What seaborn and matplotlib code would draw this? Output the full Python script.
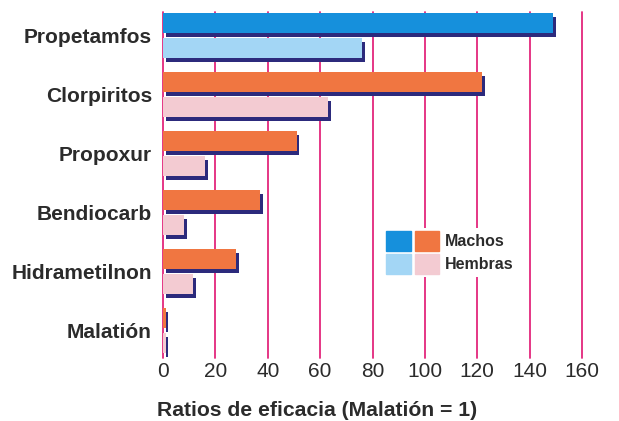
import pandas as pd
import numpy as np
import matplotlib
matplotlib.use("Agg")
import matplotlib.pyplot as plt
import matplotlib.patheffects as pe
from matplotlib.patches import Patch
from matplotlib.legend_handler import HandlerTuple
import seaborn as sns

insecticidas = ['Propetamfos', 'Clorpiritos', 'Propoxur', 'Bendiocarb', 'Hidrametilnon', 'Malatión']
machos = [149, 122, 51, 37, 28, 1]
hembras = [76, 63, 16, 8, 11.5, 1]
xticks = [0, 20, 40, 60, 80, 100, 120, 140, 160]

azul, azul_claro = '#1690dc', '#a3d6f5'
naranja, rosa = '#f07641', '#f3cbd2'
sombra = '#2c2a7c'
magenta = '#e3267c'
texto = '#2b2b2b'

df = pd.DataFrame({
    'insecticida': insecticidas * 2,
    'ratio': machos + hembras,
    'sexo': ['Machos'] * len(machos) + ['Hembras'] * len(hembras),
})

sns.set_style('white')
plt.rcParams['font.family'] = ['Liberation Sans', 'DejaVu Sans']

fig = plt.figure(figsize=(6.19, 4.21), dpi=100)
ax = fig.add_axes([163 / 619, 1 - 358 / 421, 419 / 619, 346 / 421])

for v in xticks:
    ax.axvline(v, color=magenta, lw=1.3, zorder=0, clip_on=False)

sns.barplot(data=df, y='insecticida', x='ratio', hue='sexo', orient='h',
            width=0.85, gap=0.2, legend=False, ax=ax, zorder=2,
            palette=[naranja, rosa], saturation=1)

for i, (bm, bh) in enumerate(zip(ax.containers[0], ax.containers[1])):
    bm.set_facecolor(azul if i == 0 else naranja)
    bh.set_facecolor(azul_claro if i == 0 else rosa)
    for b in (bm, bh):
        b.set_edgecolor('none')
        b.set_path_effects([pe.SimplePatchShadow(offset=(2, -3), shadow_rgbFace=sombra, alpha=1.0),
                            pe.Normal()])

ax.set_xlim(0, 160)
ax.set_ylim(5.47, -0.40)
ax.set_xticks(xticks)
ax.set_xticklabels([str(v) for v in xticks], fontsize=15, color=texto)
ax.tick_params(axis='x', length=0, pad=3)
ax.tick_params(axis='y', length=0, pad=8)
for lab in ax.get_yticklabels():
    lab.set_fontsize(15)
    lab.set_fontweight('bold')
    lab.set_color(texto)
ax.set_xlabel('')
ax.set_ylabel('')
sns.despine(ax=ax, left=True, bottom=True)

handles = [(Patch(color=azul), Patch(color=naranja)), (Patch(color=azul_claro), Patch(color=rosa))]
leg = ax.legend(handles, ['Machos', 'Hembras'], handler_map={tuple: HandlerTuple(ndivide=None, pad=0.25)},
                loc='upper left', bbox_to_anchor=(0.525, 0.375), frameon=True, facecolor='white',
                edgecolor='none', framealpha=1, fancybox=False, borderpad=0.2, borderaxespad=0,
                handlelength=3.3, handleheight=1.5, handletextpad=0.4, labelspacing=0.2,
                prop={'weight': 'bold', 'size': 11.5})
for t in leg.get_texts():
    t.set_color(texto)

fig.text(317 / 619, 1 - 410 / 421, 'Ratios de eficacia (Malatión = 1)', ha='center', va='center',
         fontsize=15.2, fontweight='bold', color=texto)

fig.savefig('out.png', dpi=100, facecolor='white')
